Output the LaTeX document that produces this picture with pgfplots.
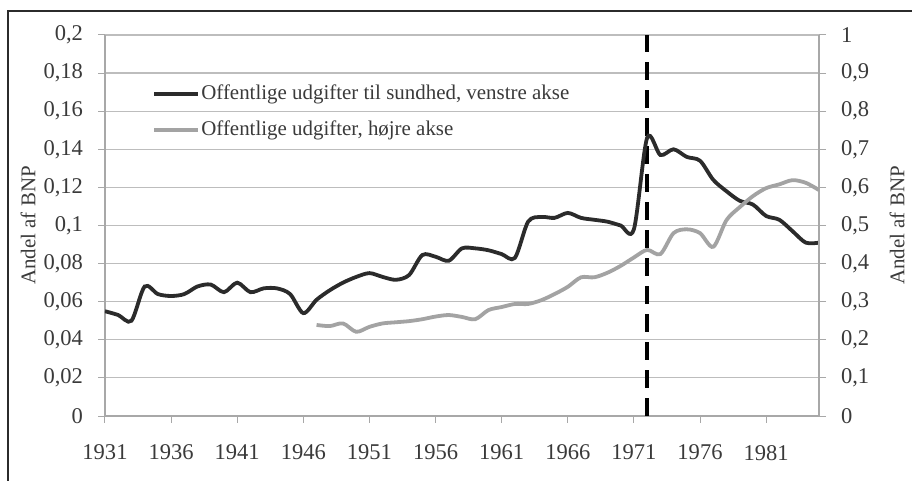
\documentclass[border=0pt]{standalone}
\usepackage{pgfplots}
\pgfplotsset{compat=1.18}
\usepackage{pgfplotstable}
\usepackage{fontspec}
\setmainfont{Liberation Serif}
\definecolor{dk}{HTML}{2B2B2B}
\definecolor{lg}{HTML}{A3A3A3}
\definecolor{gridc}{HTML}{BDBDBD}
\definecolor{axc}{HTML}{A8A8A8}
\definecolor{txt}{HTML}{3A3A3A}

\pgfplotstableread{
year val
1931 0.055
1932 0.053
1933 0.050
1934 0.068
1935 0.064
1936 0.063
1937 0.064
1938 0.068
1939 0.069
1940 0.065
1941 0.070
1942 0.065
1943 0.067
1944 0.067
1945 0.064
1946 0.054
1947 0.061
1948 0.066
1949 0.070
1950 0.073
1951 0.075
1952 0.073
1953 0.0715
1954 0.074
1955 0.0845
1956 0.0836
1957 0.0815
1958 0.088
1959 0.088
1960 0.087
1961 0.085
1962 0.083
1963 0.102
1964 0.1045
1965 0.104
1966 0.1066
1967 0.104
1968 0.103
1969 0.102
1970 0.100
1971 0.098
1972 0.146
1973 0.137
1974 0.140
1975 0.136
1976 0.134
1977 0.124
1978 0.118
1979 0.113
1980 0.111
1981 0.105
1982 0.103
1983 0.097
1984 0.091
1985 0.091
}\health

\pgfplotstableread{
year val
1947 0.239
1948 0.236
1949 0.243
1950 0.221
1951 0.234
1952 0.243
1953 0.246
1954 0.249
1955 0.254
1956 0.261
1957 0.265
1958 0.260
1959 0.254
1960 0.278
1961 0.286
1962 0.294
1963 0.294
1964 0.304
1965 0.320
1966 0.339
1967 0.364
1968 0.364
1969 0.376
1970 0.394
1971 0.416
1972 0.436
1973 0.425
1974 0.480
1975 0.490
1976 0.480
1977 0.444
1978 0.514
1979 0.548
1980 0.577
1981 0.598
1982 0.608
1983 0.619
1984 0.612
1985 0.593
}\public

\pgfplotstableread{
year val
1972 0
1972 0.2
}\dashline

\begin{document}
\begin{tikzpicture}[font=\fontsize{10.5}{12}\selectfont]
\useasboundingbox (-52.5bp,-32.5bp) rectangle (403.5bp,208bp);
\begin{scope}
\clip (-52.5bp,-32.5bp) rectangle (403.5bp,208bp);
\draw[color=dk, line width=1bp] (-48.5bp,-40bp) -- (-48.5bp,202.5bp) -- (420bp,202.5bp);
\end{scope}
\pgfplotsset{
  common/.style={
    scale only axis, width=357bp, height=190.5bp,
    at={(0,0)}, anchor=south west,
    xmin=1931, xmax=1985,
    ymin=0,
    /pgf/number format/assume math mode=true,
    /pgf/number format/use comma,
    /pgf/number format/1000 sep={},
    tick label style={text=txt, font=\fontsize{11.3}{13}\selectfont},
    label style={text=txt, font=\fontsize{10.5}{12}\selectfont},
    tick style={color=axc, line width=0.5bp},
    axis line style={color=axc, line width=0.6bp},
    major tick length=3.5bp,
  }
}
\begin{axis}[common,
  ymax=0.2,
  axis x line*=bottom, axis y line*=left,
  xtick={1931,1936,...,1981},
  xticklabel style={yshift=-7.5bp},
  ytick={0,0.02,...,0.2},
  yticklabel style={/pgf/number format/fixed, /pgf/number format/precision=2, xshift=-4bp},
  ymajorgrids, grid style={color=gridc, line width=0.6bp},
  tick align=outside,
  ylabel={Andel af BNP},
  ylabel style={at={(axis description cs:0,0.5)}, anchor=center, yshift=38.5bp},
]
\addplot[color=black, line width=1.9bp, dash pattern=on 9bp off 5bp] table[x=year,y=val] {\dashline};
\addplot[color=dk, line width=1.9bp, smooth, tension=0.5] table[x=year,y=val] {\health};
\end{axis}
\begin{axis}[common,
  ymax=1,
  axis x line=none, axis y line*=right,
  ytick={0,0.1,...,1},
  yticklabel style={/pgf/number format/fixed, /pgf/number format/precision=1, xshift=4bp},
  tick align=outside,
  ylabel={Andel af BNP},
  ylabel style={at={(axis description cs:1,0.5)}, anchor=center, rotate=0, yshift=-39bp},
  legend style={draw=none, fill=none, at={(axis description cs:0.066,0.798)}, anchor=west,
    inner sep=0pt, row sep=8bp, column sep=0bp,
    nodes={inner sep=0.5bp, text=txt}},
  legend cell align=left,
  legend image code/.code={\draw[#1] (0bp,0bp) -- (22bp,0bp);},
]
\addlegendimage{color=dk, line width=1.9bp}
\addlegendentry{Offentlige udgifter til sundhed, venstre akse}
\addplot[color=lg, line width=1.9bp, smooth, tension=0.5] table[x=year,y=val] {\public};
\addlegendentry{Offentlige udgifter, højre akse}
\end{axis}
\end{tikzpicture}
\end{document}
